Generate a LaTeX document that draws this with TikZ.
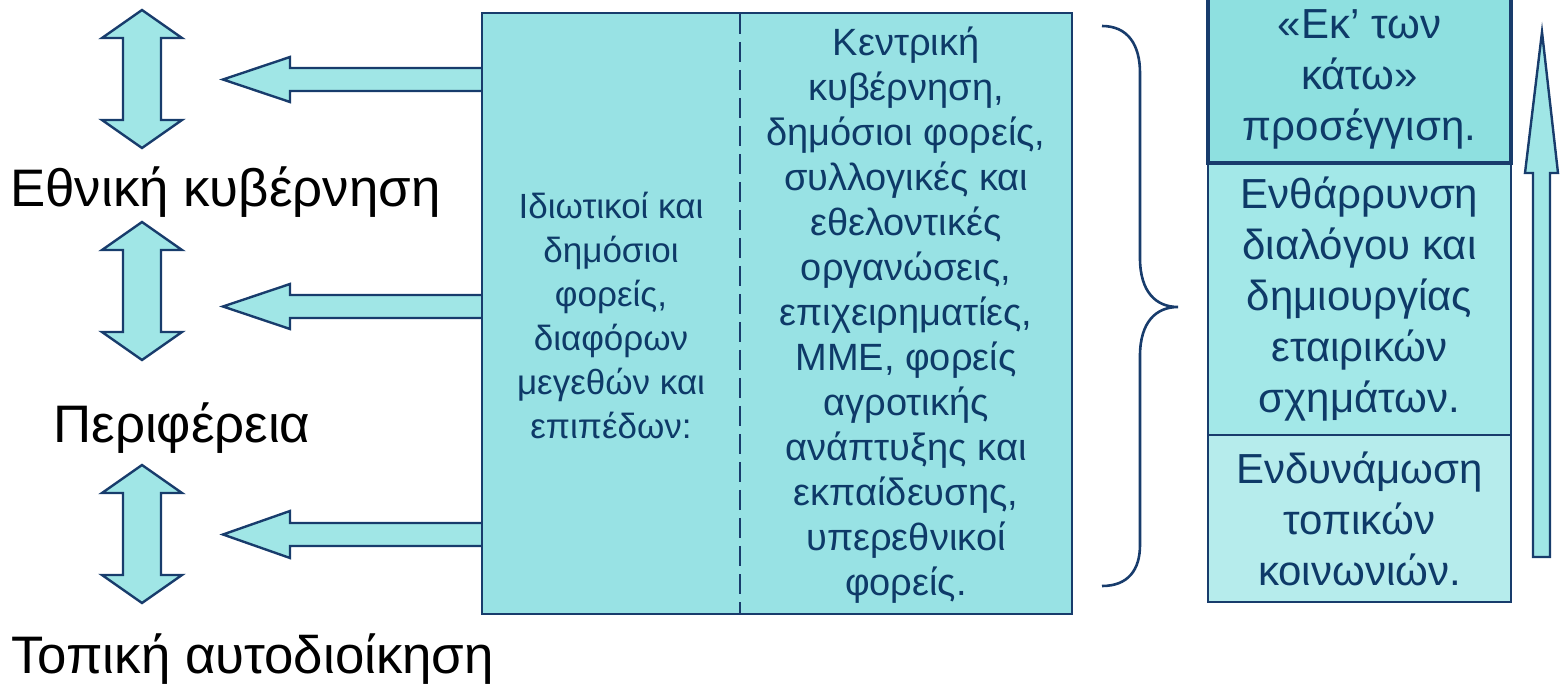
\documentclass[tikz,border=0pt]{standalone}
\usepackage{fontspec}
\setmainfont{Liberation Sans}
\usepackage{tikz}
\usetikzlibrary{positioning}
\definecolor{navyline}{RGB}{24,60,108}
\definecolor{navytext}{RGB}{14,58,104}
\definecolor{tealfill}{RGB}{152,226,228}
\definecolor{arrowfill}{RGB}{160,230,230}
\definecolor{topfill}{RGB}{142,224,224}
\definecolor{midfill}{RGB}{163,232,232}
\definecolor{lowfill}{RGB}{182,236,236}
\tikzstyle{blockarrow} = [draw=navyline, line width=1.2pt, fill=arrowfill, line join=miter]
\tikzstyle{level} = [anchor=base west, inner sep=0pt, font=\fontsize{26.4}{30}\selectfont]
\tikzstyle{boxtext} = [align=center, text=navytext, font=\fontsize{19}{22.5}\selectfont]
\tikzstyle{stepbox} = [rectangle, draw=navyline, line width=1pt, minimum width=151.5pt, inner sep=0pt, align=center, text=navytext, font=\fontsize{21}{25.5}\selectfont]

\begin{document}
\begin{tikzpicture}[x=0.5pt, y=-0.5pt]
\useasboundingbox (0,0) rectangle (1560,684);

% levels of government
\node (national) [level] at (10,207) {Εθνική κυβέρνηση};
\node (region) [level] at (53,443) {Περιφέρεια};
\node (local) [level] at (11,673) {Τοπική αυτοδιοίκηση};

% two-way arrows between levels
\draw [blockarrow] (142,10) -- (182,38) -- (161,38) -- (161,120) -- (182,120) -- (142,148) -- (102,120) -- (123,120) -- (123,38) -- (102,38) -- cycle;
\draw [blockarrow] (142,222) -- (182,250) -- (161,250) -- (161,332) -- (182,332) -- (142,360) -- (102,332) -- (123,332) -- (123,250) -- (102,250) -- cycle;
\draw [blockarrow] (142,465) -- (182,493) -- (161,493) -- (161,575) -- (182,575) -- (142,603) -- (102,575) -- (123,575) -- (123,493) -- (102,493) -- cycle;

% arrows out of the box
\draw [blockarrow] (484,68) -- (290,68) -- (290,57) -- (223,79.5) -- (290,102) -- (290,91) -- (484,91) -- cycle;
\draw [blockarrow] (484,295) -- (290,295) -- (290,284) -- (223,306.5) -- (290,329) -- (290,318) -- (484,318) -- cycle;
\draw [blockarrow] (484,523) -- (290,523) -- (290,511) -- (223,534.5) -- (290,558) -- (290,546) -- (484,546) -- cycle;

% actors box
\node (orgbox) [rectangle, draw=navyline, line width=1pt, fill=tealfill, minimum width=295pt, minimum height=300.5pt, inner sep=0pt] at (777,313.5) {};
\draw [navyline, line width=1pt, dash pattern=on 10pt off 4pt] (740,14) -- (740,613);
\node (private) [boxtext, font=\fontsize{17.5}{22}\selectfont] at (611,315) {Ιδιωτικοί και\\δημόσιοι\\φορείς,\\διαφόρων\\μεγεθών και\\επιπέδων:};
\node (actors) [boxtext] at (906,315) {Κεντρική\\κυβέρνηση,\\δημόσιοι φορείς,\\συλλογικές και\\εθελοντικές\\οργανώσεις,\\επιχειρηματίες,\\ΜΜΕ, φορείς\\αγροτικής\\ανάπτυξης και\\εκπαίδευσης,\\υπερεθνικοί\\φορείς.};

% brace
\draw [navyline, line width=1.3pt] (1102,26) .. controls (1128,26) and (1140,45) .. (1140,73) -- (1140,258) .. controls (1140,292) and (1156,307) .. (1178,307) .. controls (1156,307) and (1140,322) .. (1140,356) -- (1140,545) .. controls (1140,570) and (1128,586) .. (1102,586);

% approach column
\node (dialogue) [stepbox, fill=midfill, minimum height=136pt] at (1359.5,299) {Ενθάρρυνση\\διαλόγου και\\δημιουργίας\\εταιρικών\\σχημάτων.};
\node (empower) [stepbox, fill=lowfill, minimum height=83.5pt] at (1359.5,518.5) {Ενδυνάμωση\\τοπικών\\κοινωνιών.};
\node (bottomup) [stepbox, fill=topfill, line width=1.6pt, minimum height=83.5pt] at (1359.5,79.5) {«Εκ’ των\\κάτω»\\προσέγγιση.};

% upward arrow
\draw [blockarrow] (1542,32) -- (1558,173) -- (1550,173) -- (1550,557) -- (1533,557) -- (1533,173) -- (1525,173) -- cycle;
\end{tikzpicture}
\end{document}
